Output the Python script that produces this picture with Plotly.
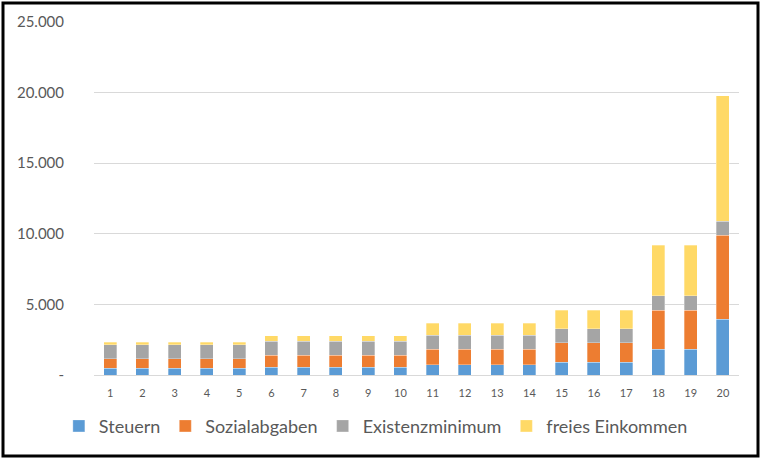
import plotly.graph_objects as go

categories = [str(i) for i in range(1, 21)]
steuern = [470]*5 + [545]*5 + [730]*4 + [920]*3 + [1820]*2 + [3940]
sozialabgaben = [680]*5 + [850]*5 + [1090]*4 + [1370]*3 + [2780]*2 + [5950]
existenzminimum = [1000]*20
freies_einkommen = [170]*5 + [400]*5 + [830]*4 + [1310]*3 + [3600]*2 + [8900]

y_tickvals = [0, 5000, 10000, 15000, 20000, 25000]
y_ticktext = ["-", "5.000", "10.000", "15.000", "20.000", "25.000"]

series = [
    ("Steuern", steuern, "#5B9BD5"),
    ("Sozialabgaben", sozialabgaben, "#ED7D31"),
    ("Existenzminimum", existenzminimum, "#A5A5A5"),
    ("freies Einkommen", freies_einkommen, "#FFD966"),
]

W, H = 761, 459
ML, MR, MT, MB = 94, 22, 22, 84

fig = go.Figure()
for name, vals, col in series:
    fig.add_trace(go.Bar(
        x=categories, y=vals, name=name,
        marker=dict(color=col, line=dict(color="rgba(255,255,255,0.5)", width=0.6)),
    ))

pw = W - ML - MR
ph = H - MT - MB
fig.add_shape(type="rect", xref="paper", yref="paper",
              x0=(3 - ML) / pw, x1=(W - 3 - ML) / pw,
              y0=-(MB - 3) / ph, y1=1 + (MT - 3) / ph,
              line=dict(color="black", width=3), layer="above")

fig.update_layout(
    width=W, height=H,
    margin=dict(l=ML, r=MR, t=MT, b=MB, autoexpand=False),
    barmode="stack", bargap=0.6,
    plot_bgcolor="white", paper_bgcolor="white",
    font=dict(family="Lato, Open Sans, sans-serif", color="#595959"),
    showlegend=True,
    legend=dict(orientation="h", x=0.437, xanchor="center", y=-0.145, yanchor="middle",
                font=dict(size=18, color="#595959"), itemwidth=30, traceorder="normal",
                tracegroupgap=0),
    xaxis=dict(type="category", showgrid=False, showline=True, linecolor="#D9D9D9", linewidth=1,
               tickfont=dict(size=11, color="#595959"), ticks="outside", ticklen=8,
               tickcolor="rgba(0,0,0,0)"),
    yaxis=dict(range=[0, 25000], tickvals=y_tickvals, ticktext=y_ticktext,
               showgrid=True, gridcolor="#D9D9D9", gridwidth=1, zeroline=False,
               tickfont=dict(size=15, color="#595959"), ticks="outside", ticklen=26,
               tickcolor="rgba(0,0,0,0)"),
)

fig.write_html("out.html", config={"displayModeBar": False},
               post_script="document.body.style.margin='0px';document.body.style.overflow='hidden';")
